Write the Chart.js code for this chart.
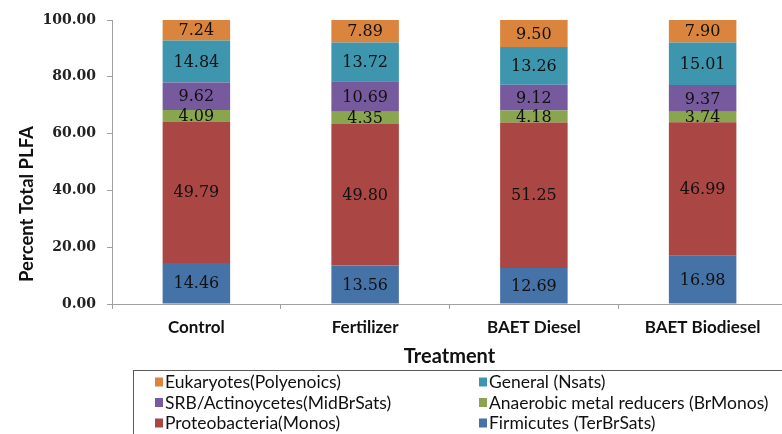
<!DOCTYPE html>
<html>
<head>
<meta charset="utf-8">
<script src="https://cdn.jsdelivr.net/npm/chart.js@4.4.1/dist/chart.umd.min.js"></script>
<style>
  html, body { margin: 0; padding: 0; background: #ffffff; overflow: hidden; }
  #wrap { width: 800px; height: 434px; }
</style>
</head>
<body>
<div id="wrap"><canvas id="plfa" width="800" height="434"></canvas></div>
<script>
// Percent of total PLFA by microbial group, per treatment
const categories = ['Control', 'Fertilizer', 'BAET Diesel', 'BAET Biodiesel'];

const firmicutes     = [14.46, 13.56, 12.69, 16.98];
const proteobacteria = [49.79, 49.80, 51.25, 46.99];
const anaerobic      = [4.09, 4.35, 4.18, 3.74];
const srb            = [9.62, 10.69, 9.12, 9.37];
const general        = [14.84, 13.72, 13.26, 15.01];
const eukaryotes     = [7.24, 7.89, 9.50, 7.90];

const seriesNames = [
  'Firmicutes (TerBrSats)',
  'Proteobacteria(Monos)',
  'Anaerobic metal reducers (BrMonos)',
  'SRB/Actinoycetes(MidBrSats)',
  'General (Nsats)',
  'Eukaryotes(Polyenoics)'
];
const seriesValues = [firmicutes, proteobacteria, anaerobic, srb, general, eukaryotes];
const seriesColors = ['#4572A7', '#AA4643', '#89A54E', '#775A9E', '#3D96AE', '#DB843D'];

const yTickValues = [0, 20, 40, 60, 80, 100];
const yTitle = 'Percent Total PLFA';
const xTitle = 'Treatment';

// legend reads top of the stack first, two columns
const legendOrder = [5, 4, 3, 2, 1, 0];

const datasets = seriesNames.map((name, i) => ({
  label: name,
  data: seriesValues[i],
  backgroundColor: seriesColors[i],
  borderWidth: 0,
  categoryPercentage: 1.0,
  barPercentage: 0.4
}));

const segmentLabels = {
  id: 'segmentLabels',
  afterDatasetsDraw(chart) {
    const ctx = chart.ctx;
    ctx.save();
    ctx.font = '16px "DejaVu Serif"';
    ctx.fillStyle = '#111111';
    ctx.textAlign = 'center';
    ctx.textBaseline = 'middle';
    chart.data.datasets.forEach((ds, di) => {
      const meta = chart.getDatasetMeta(di);
      meta.data.forEach((bar, j) => {
        const top = Math.max(bar.y, chart.chartArea.top);
        const y = (top + bar.base) / 2;
        ctx.fillText(ds.data[j].toFixed(2), bar.x, y + 1);
      });
    });
    ctx.restore();
  }
};

const titlesAndLegend = {
  id: 'titlesAndLegend',
  afterDraw(chart) {
    const ctx = chart.ctx;
    const area = chart.chartArea;
    ctx.save();

    // y axis title
    ctx.fillStyle = '#111111';
    ctx.font = 'bold 18.5px Lato';
    ctx.textAlign = 'center';
    ctx.textBaseline = 'middle';
    ctx.translate(27, 204);
    ctx.rotate(-Math.PI / 2);
    ctx.fillText(yTitle, 0, 0);
    ctx.setTransform(1, 0, 0, 1, 0, 0);

    // x axis title
    ctx.font = 'bold 20px Lato';
    ctx.fillText(xTitle, (area.left + area.right) / 2, 357);

    // legend box
    const boxLeft = 133.5, boxTop = 370.5;
    ctx.strokeStyle = '#5a5a5a';
    ctx.lineWidth = 1;
    ctx.strokeRect(boxLeft, boxTop, 700, 100);

    const colX = [155, 479];
    const rowY = [382, 402.5, 423];
    ctx.font = '17.5px Lato';
    ctx.textAlign = 'left';
    ctx.textBaseline = 'middle';
    legendOrder.forEach((si, k) => {
      const cx = colX[k % 2];
      const cy = rowY[Math.floor(k / 2)];
      ctx.fillStyle = seriesColors[si];
      ctx.fillRect(cx, cy - 4.5, 8, 9);
      ctx.fillStyle = '#111111';
      ctx.fillText(seriesNames[si], cx + 10, cy + 0.5);
    });
    ctx.restore();
  }
};

new Chart(document.getElementById('plfa'), {
  type: 'bar',
  data: { labels: categories, datasets },
  plugins: [segmentLabels, titlesAndLegend],
  options: {
    responsive: false,
    animation: false,
    devicePixelRatio: 1,
    layout: { padding: { top: 20, right: 13, bottom: 70, left: 0 } },
    plugins: {
      legend: { display: false },
      tooltip: { enabled: false }
    },
    scales: {
      x: {
        stacked: true,
        afterFit(scale) { scale.height = 60; },
        grid: {
          offset: true,
          drawOnChartArea: false,
          drawTicks: true,
          tickLength: 5,
          color: '#a0a0a0'
        },
        border: { color: '#a0a0a0', width: 1 },
        ticks: {
          color: '#111111',
          font: { family: 'Lato', size: 17, weight: 'bold' },
          padding: 8,
          maxRotation: 0
        }
      },
      y: {
        stacked: true,
        min: 0,
        max: 100,
        afterFit(scale) { scale.width = 112; },
        afterBuildTicks(scale) {
          scale.ticks = yTickValues.map(v => ({ value: v }));
        },
        grid: {
          drawOnChartArea: false,
          drawTicks: true,
          tickLength: 5,
          color: '#a0a0a0'
        },
        border: { color: '#a0a0a0', width: 1 },
        ticks: {
          color: '#222222',
          font: { family: 'DejaVu Serif', size: 14, weight: 'bold' },
          padding: 11,
          callback: v => Number(v).toFixed(2)
        }
      }
    }
  }
});
</script>
</body>
</html>
